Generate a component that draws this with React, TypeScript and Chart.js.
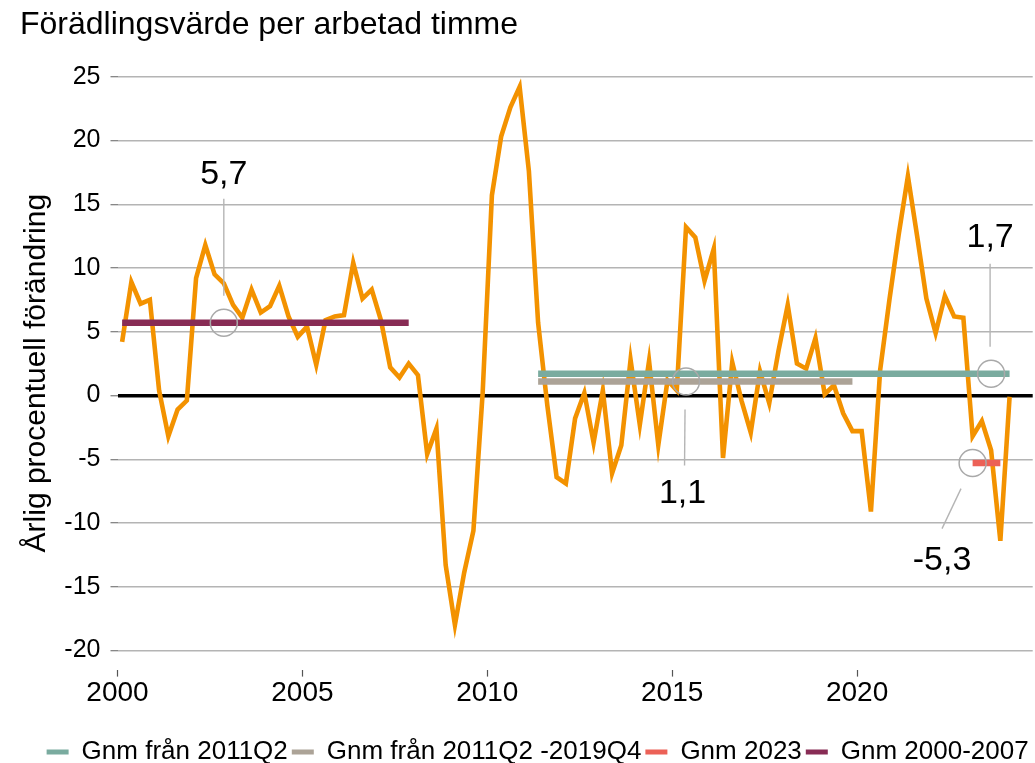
import React, { useEffect, useRef } from 'react';
import { Chart, registerables } from 'chart.js';

Chart.register(...registerables);

// ---------- DATA ----------
const axisQuarters: string[] = [];
for (let yr = 2000; yr <= 2024; yr++) {
  for (let q = 1; q <= 4; q++) axisQuarters.push(`${yr}Q${q}`);
}
axisQuarters.splice(99); // axis runs 2000Q1 .. 2024Q3

const tickYears = ['2000', '2005', '2010', '2015', '2020'];
const yTickValues = [-20, -15, -10, -5, 0, 5, 10, 15, 20, 25];

// Årlig procentuell förändring, 2000Q1 .. 2024Q1
const growth = [
  4.2, 8.9, 7.2, 7.5, 0.4, -3.2, -1.1, -0.4, 9.2, 11.8,
  9.5, 8.8, 7.1, 6.1, 8.3, 6.5, 7.0, 8.6, 6.2, 4.6,
  5.4, 2.4, 5.9, 6.2, 6.3, 10.4, 7.6, 8.3, 5.9, 2.2,
  1.4, 2.5, 1.6, -4.6, -2.6, -13.3, -18.0, -13.9, -10.6, 0.2,
  15.7, 20.3, 22.6, 24.2, 17.6, 5.7, -0.8, -6.4, -6.9, -1.8,
  0.2, -3.7, 0.4, -6.1, -3.9, 2.8, -2.3, 2.7, -3.9, 1.2,
  0.4, 13.2, 12.4, 9.0, 11.5, -4.9, 2.6, -0.4, -2.9, 1.9,
  -0.6, 3.5, 7.1, 2.5, 2.1, 4.5, 0.1, 0.8, -1.4, -2.8,
  -2.8, -9.1, 2.0, 7.5, 12.6, 17.2, 12.5, 7.6, 4.9, 7.8,
  6.2, 6.1, -3.2, -2.0, -4.3, -11.4, -0.1,
];

const avgLabels = ['Gnm från 2011Q2', 'Gnm från 2011Q2 -2019Q4', 'Gnm 2023', 'Gnm 2000-2007'];
const avgValues = [1.7, 1.1, -5.3, 5.7];
const avgFrom = ['2011Q2', '2011Q2', '2023Q1', '2000Q1'];
const avgTo = ['2024Q1', '2019Q4', '2023Q4', '2007Q4'];
const calloutQuarters = ['2023Q3', '2015Q2', '2023Q1', '2002Q4'];

// ---------- STYLE ----------
const FONT = '"Liberation Sans", Arial, Helvetica, sans-serif';
const lineColor = '#f39200';
const avgColors = ['#7aab9f', '#aca397', '#ec6157', '#882c55'];
const calloutGeom = [
  { l1: [-1, -27], l2: [-1, -110], t: [-1, -127] },
  { l1: [-1, 28], l2: [-1.5, 84], t: [-3.5, 122] },
  { l1: [-11.6, 25.6], l2: [-30.6, 65.6], t: [-30.6, 106.6] },
  { l1: [0, -27], l2: [0, -124], t: [0, -139] },
];

const qi = (q: string) => axisQuarters.indexOf(q);

const calloutPlugin = {
  id: 'callouts',
  afterDatasetsDraw(chart: any) {
    const { ctx } = chart;
    const xs = chart.scales.x;
    const ys = chart.scales.y;
    ctx.save();
    avgValues.forEach((v, k) => {
      const cx = xs.getPixelForValue(qi(calloutQuarters[k]));
      const cy = ys.getPixelForValue(v);
      const g = calloutGeom[k];
      ctx.strokeStyle = '#a9a9a9';
      ctx.lineWidth = 1.5;
      ctx.beginPath();
      ctx.arc(cx, cy, 13.5, 0, Math.PI * 2);
      ctx.stroke();
      ctx.strokeStyle = '#b5b5b5';
      ctx.lineWidth = 1.4;
      ctx.beginPath();
      ctx.moveTo(cx + g.l1[0], cy + g.l1[1]);
      ctx.lineTo(cx + g.l2[0], cy + g.l2[1]);
      ctx.stroke();
      ctx.fillStyle = '#000';
      ctx.font = `34px ${FONT}`;
      ctx.textAlign = 'center';
      ctx.textBaseline = 'alphabetic';
      ctx.fillText(v.toFixed(1).replace('.', ','), cx + g.t[0], cy + g.t[1]);
    });
    ctx.restore();
  },
};

export default function App() {
  const ref = useRef<HTMLCanvasElement>(null);

  useEffect(() => {
    if (!ref.current) return;
    Chart.defaults.font.family = FONT;
    Chart.defaults.color = '#000';

    const datasets: any[] = [
      {
        label: 'Förädlingsvärde per arbetad timme',
        data: growth.map((v, i) => ({ x: i, y: v })),
        borderColor: lineColor,
        backgroundColor: lineColor,
        borderWidth: 4.6,
        pointRadius: 0,
        tension: 0,
        borderJoinStyle: 'miter',
        order: 1,
      },
      ...avgLabels.map((lab, k) => ({
        label: lab,
        data: [
          { x: qi(avgFrom[k]), y: avgValues[k] },
          { x: qi(avgTo[k]), y: avgValues[k] },
        ],
        borderColor: avgColors[k],
        backgroundColor: avgColors[k],
        borderWidth: 6.5,
        borderCapStyle: 'butt',
        pointRadius: 0,
        order: 0,
      })),
    ];

    const chart = new Chart(ref.current, {
      type: 'line',
      data: { datasets },
      plugins: [calloutPlugin],
      options: {
        animation: false,
        responsive: false,
        maintainAspectRatio: false,
        layout: { padding: { left: 20, right: 2.3, top: 0, bottom: 0 } },
        plugins: {
          title: {
            display: true,
            text: 'Förädlingsvärde per arbetad timme',
            align: 'start',
            color: '#000',
            font: { size: 32, weight: 'normal', family: FONT, lineHeight: 1.2 },
            padding: { top: 6, bottom: 32.3 },
          },
          legend: {
            position: 'bottom',
            align: 'end',
            maxHeight: 28,
            labels: {
              boxWidth: 22,
              boxHeight: 5,
              padding: 4,
              color: '#000',
              font: { size: 26, family: FONT },
              generateLabels: (c: any) =>
                (Chart as any).defaults.plugins.legend.labels
                  .generateLabels(c)
                  .filter((l: any) => l.datasetIndex > 0)
                  .map((l: any) => ({
                    ...l,
                    lineWidth: 0,
                    fillStyle: avgColors[l.datasetIndex - 1],
                    strokeStyle: avgColors[l.datasetIndex - 1],
                  })),
            },
          },
          tooltip: { enabled: false },
        },
        scales: {
          x: {
            type: 'linear',
            min: -0.5,
            max: axisQuarters.length - 0.5,
            afterBuildTicks: (s: any) => {
              s.ticks = tickYears.map((y) => ({ value: qi(y + 'Q1') - 0.5 }));
            },
            afterFit: (s: any) => {
              s.height = 65.4;
            },
            ticks: {
              autoSkip: false,
              maxRotation: 0,
              padding: 0,
              color: '#000',
              font: { size: 28, family: FONT },
              callback: (v: any) => axisQuarters[Math.round(Number(v) + 0.5)].slice(0, 4),
            },
            grid: {
              drawOnChartArea: false,
              drawTicks: true,
              tickLength: 7,
              tickColor: '#555',
              tickWidth: 1.2,
            },
            border: { display: false },
          },
          y: {
            type: 'linear',
            min: -21.5,
            max: 25,
            afterBuildTicks: (s: any) => {
              s.ticks = yTickValues.map((v) => ({ value: v }));
            },
            afterFit: (s: any) => {
              s.width = 97.5;
            },
            ticks: {
              autoSkip: false,
              padding: 10,
              color: '#000',
              font: { size: 25, family: FONT },
              callback: (v: any) => String(v),
            },
            grid: {
              color: (c: any) => (c.tick && c.tick.value === 0 ? '#000' : '#b4b4b4'),
              lineWidth: (c: any) => (c.tick && c.tick.value === 0 ? 3.5 : 1.4),
              tickColor: '#7a7a7a',
              tickWidth: 1.2,
              tickLength: 7,
              drawTicks: true,
            },
            border: { display: false },
            title: {
              display: true,
              text: 'Årlig procentuell förändring',
              color: '#000',
              font: { size: 30, family: FONT, lineHeight: 1 },
              padding: { top: 2, bottom: 0 },
            },
          },
        },
      } as any,
    });
    return () => chart.destroy();
  }, []);

  return (
    <div style={{ position: 'absolute', left: 0, top: 0, width: 1035, height: 763, background: '#fff' }}>
      <canvas ref={ref} width={1035} height={763} style={{ display: 'block' }} />
    </div>
  );
}
